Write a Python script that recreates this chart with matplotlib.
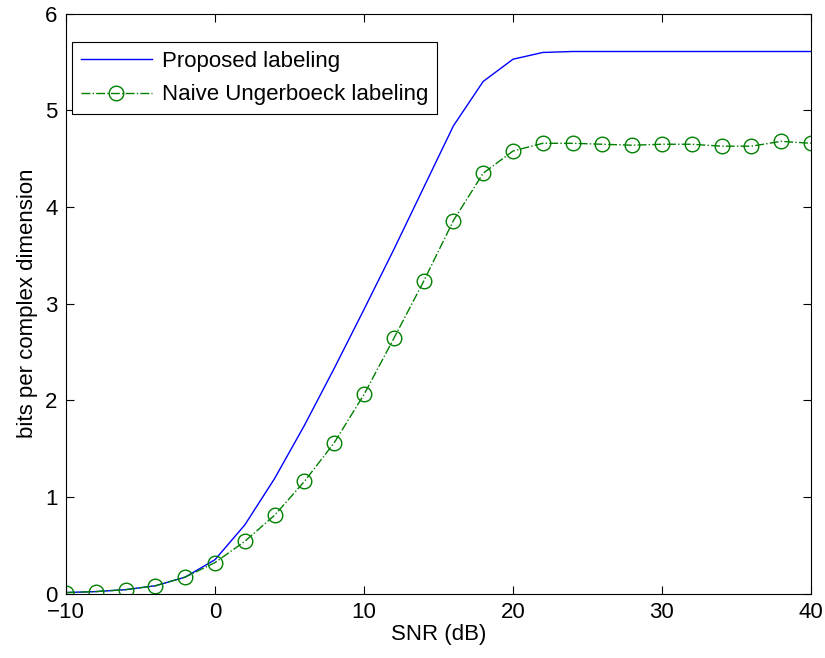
import matplotlib
matplotlib.use("Agg")
import matplotlib.pyplot as plt

snr_db = [-10, -8, -6, -4, -2, 0, 2, 4, 6, 8, 10, 12, 14, 16, 18, 20,
          22, 24, 26, 28, 30, 32, 34, 36, 38, 40]
proposed = [0.01, 0.02, 0.04, 0.08, 0.17, 0.35, 0.71, 1.19, 1.74, 2.33,
            2.94, 3.56, 4.20, 4.84, 5.30, 5.53, 5.60, 5.61, 5.61, 5.61,
            5.61, 5.61, 5.61, 5.61, 5.61, 5.61]
naive = [0.01, 0.02, 0.04, 0.08, 0.17, 0.32, 0.54, 0.81, 1.16, 1.56,
         2.06, 2.64, 3.23, 3.86, 4.35, 4.58, 4.66, 4.66, 4.65, 4.64,
         4.65, 4.65, 4.63, 4.63, 4.68, 4.66]
x_ticks = [-10, 0, 10, 20, 30, 40]
x_tick_labels = ["\u221210", "0", "10", "20", "30", "40"]
y_ticks = [0, 1, 2, 3, 4, 5, 6]


def main():
    plt.rcParams["font.family"] = ["Liberation Sans", "DejaVu Sans"]
    plt.rcParams["font.size"] = 16

    fig = plt.figure(figsize=(8.25, 6.58), dpi=100)
    ax = fig.add_axes([0.08, 0.098, 0.903, 0.881])

    ax.plot(snr_db, proposed, color="#0000ff", linewidth=1.0,
            label="Proposed labeling")
    ax.plot(snr_db, naive, color="#008000", linewidth=1.0, linestyle="-.",
            marker="o", markersize=10.5, markerfacecolor="none",
            markeredgecolor="#008000", markeredgewidth=1.0,
            label="Naive Ungerboeck labeling")

    ax.set_xlim(-10, 40)
    ax.set_ylim(0, 6)
    ax.set_xticks(x_ticks)
    ax.set_xticklabels(x_tick_labels)
    ax.set_yticks(y_ticks)
    ax.tick_params(direction="in", top=True, right=True, length=6,
                   width=0.8, labelsize=16, pad=6)
    for sp in ax.spines.values():
        sp.set_linewidth(0.8)

    ax.set_xlabel("SNR (dB)", fontsize=16, labelpad=1)
    ax.set_ylabel("bits per complex dimension", fontsize=16, labelpad=5)

    # matlab-style square legend box in the top left corner
    leg = ax.legend(loc="upper left", bbox_to_anchor=(0.008, 0.952),
                    borderaxespad=0, fancybox=False, framealpha=1,
                    edgecolor="black", fontsize=16, handlelength=3.2,
                    borderpad=0.4, labelspacing=0.58, handletextpad=0.45)
    leg.get_frame().set_linewidth(0.8)

    fig.savefig("out.png", dpi=100)


if __name__ == "__main__":
    main()
